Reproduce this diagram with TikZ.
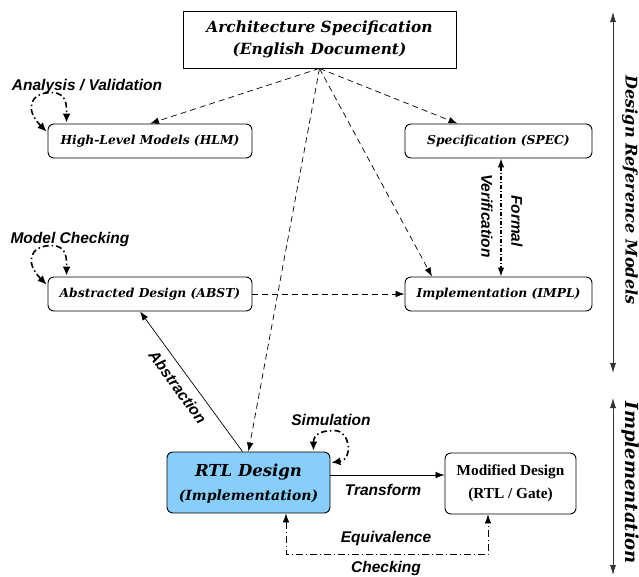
\documentclass[tikz,border=0pt]{standalone}
\usepackage{fontspec}
\usetikzlibrary{arrows.meta,calc}
\newfontfamily\schfont{DejaVu Serif}
\newfontfamily\tmsfont{Liberation Serif}
\newfontfamily\hlvfont{Liberation Sans}
\definecolor{rtlblue}{RGB}{135,206,250}
\begin{document}
\begin{tikzpicture}[x=1pt,y=-1pt,
  box/.style={draw, line width=0.9pt, rounded corners=6pt, inner sep=0pt},
  model/.style={box, minimum height=34pt,
    font={\schfont\bfseries\itshape\fontsize{12.3}{14}\selectfont}},
  lbl/.style={inner sep=0pt, font={\hlvfont\bfseries\itshape\fontsize{15.5}{18}\selectfont}},
  side/.style={inner sep=0pt, rotate=-90, font={\schfont\bfseries\itshape}},
  tip/.style={-{Latex[length=9pt,width=6.5pt]}},
  link/.style={tip, line width=0.7pt},
  dsh/.style={link, dash pattern=on 6pt off 4pt},
  loopy/.style={{Latex[length=9pt,width=8pt]}-{Latex[length=9pt,width=8pt]},
    line width=1.6pt, dash pattern=on 6pt off 3pt on 1.5pt off 3pt},
  span/.style={{Latex[length=10pt,width=6pt]}-{Latex[length=10pt,width=6pt]}, line width=0.8pt, draw=black!80}
]
\useasboundingbox (0,0) rectangle (639,576);

% source document
\node[draw, line width=0.9pt, minimum width=273pt, minimum height=57pt, align=center,
  font={\schfont\bfseries\itshape\fontsize{15.4}{22}\selectfont}]
  (arch) at (319.5,39.5) {Architecture Specification\\(English Document)};

% reference models
\node[model, minimum width=204pt] (hlm)  at (150,141)   {High-Level Models (HLM)};
\node[model, minimum width=187pt] (spec) at (498.5,141) {Specification (SPEC)};
\node[model, minimum width=204pt] (abst) at (150,294)   {Abstracted Design (ABST)};
\node[model, minimum width=187pt] (impl) at (498.5,294) {Implementation (IMPL)};

% implementation level
\node[box, fill=rtlblue, minimum width=163pt, minimum height=61pt] (rtl) at (248.5,482.5) {};
\node[inner sep=0pt, font={\schfont\bfseries\itshape\fontsize{16.5}{20}\selectfont}]
  (rtlname) at ($(rtl.center)+(0,-10)$) {RTL Design};
\node[inner sep=0pt, font={\schfont\bfseries\itshape\fontsize{14}{17}\selectfont}]
  (rtlsub) at ($(rtl.center)+(0,14)$) {(Implementation)};
\node[box, minimum width=131pt, minimum height=61pt, align=center,
  font={\tmsfont\bfseries\fontsize{15.3}{23}\selectfont}]
  (mod) at (510.5,483.5) {Modified Design\\(RTL / Gate)};

% derivations from the specification document
\draw[dsh] (arch.south) -- (hlm.north);
\draw[dsh] (arch.south) -- ($(spec.north)+(-41,0)$);
\draw[dsh] (arch.south) -- ($(impl.north)+(-66.5,0)$);
\draw[dsh] (arch.south) -- (rtl.north);
\draw[dsh] (abst.east) -- (impl.west);

% formal verification
\draw[line width=1.2pt, {Latex[length=9pt,width=6.5pt]}-{Latex[length=9pt,width=6.5pt]},
  dash pattern=on 4pt off 2pt on 1pt off 2pt]
  ($(spec.south)+(2.5,0)$) -- ($(impl.north)+(2.5,0)$);
\node[lbl, rotate=-90] (verif) at (487,216) {Verification};
\node[lbl, rotate=-90] (formal) at (517,221) {Formal};

% abstraction
\draw[link] ($(rtl.north)+(-6,0)$) -- node[lbl, sloped, below=8pt, pos=0.52] (abstr) {Abstraction}
  ($(abst.south)+(-10,0)$);

% transform
\draw[link] ($(rtl.east)+(0,-7.5)$) -- ($(mod.west)+(0,-8.5)$);
\node[lbl] (trans) at (383,490) {Transform};

% equivalence checking
\draw[line width=0.7pt, {Latex[length=9pt,width=6.5pt]}-{Latex[length=9pt,width=6.5pt]},
  dash pattern=on 7pt off 3pt on 1pt off 3pt]
  ($(rtl.south)+(37.5,0)$) -- ++(0,41) -| ($(mod.south)+(-22.5,0)$);
\node[lbl] (equiv) at (386,538) {Equivalence};
\node[lbl] (check) at (386,568) {Checking};

% self loops
\coordinate (h1) at ($(hlm.north west)+(19,-1)$);
\coordinate (h2) at ($(hlm.north west)+(-1,8)$);
\draw[loopy] (h2) .. controls +(-22,-22) and +(-22,0) .. ($(hlm.north west)+(4,-31)$)
  .. controls +(16,0) and +(0,-16) .. (h1);
\node[lbl] (anal) at (87,86) {Analysis / Validation};

\coordinate (a1) at ($(abst.north west)+(19,-1)$);
\coordinate (a2) at ($(abst.north west)+(-1,8)$);
\draw[loopy] (a2) .. controls +(-22,-22) and +(-22,0) .. ($(abst.north west)+(4,-31)$)
  .. controls +(16,0) and +(0,-16) .. (a1);
\node[lbl] (mchk) at (70,239) {Model Checking};

\coordinate (s1) at ($(rtl.north east)+(-17,-1)$);
\coordinate (s2) at ($(rtl.north east)+(1,11)$);
\draw[loopy] (s1) .. controls +(0,-16) and +(-14,0) .. ($(rtl.north east)+(4,-21)$)
  .. controls +(16,0) and +(22,-3) .. (s2);
\node[lbl] (sim) at (331,420) {Simulation};

% abstraction levels
\coordinate (dtop) at (613,12);
\coordinate (dbot) at (613,373);
\coordinate (itop) at (613,398);
\coordinate (ibot) at (613,575);
\draw[span] (dbot) -- (dtop);
\draw[span] (itop) -- (ibot);
\node[side, font={\schfont\bfseries\itshape\fontsize{16}{19}\selectfont}] (drm) at (630,190) {Design Reference Models};
\node[side, font={\schfont\bfseries\itshape\fontsize{18}{21}\selectfont}] (implside) at (630,483) {Implementation};
\end{tikzpicture}
\end{document}
